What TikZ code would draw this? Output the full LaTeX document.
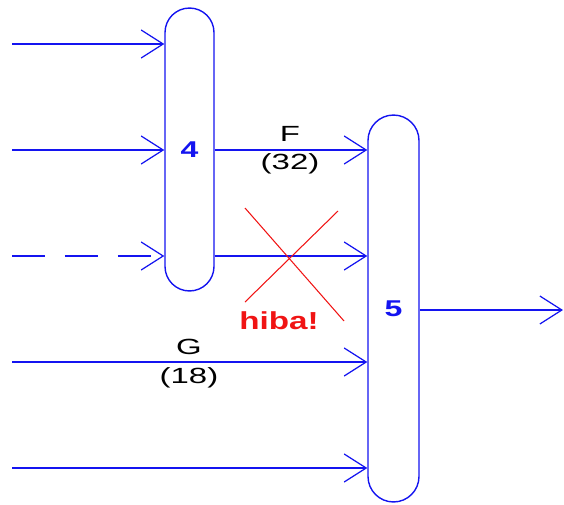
\documentclass[tikz,border=0pt]{standalone}
\usepackage{fontspec}
\setmainfont{Liberation Sans}
\newfontfamily\widefont[FakeStretch=1.5]{Liberation Sans}
\newfontfamily\unitfont[FakeStretch=1.4]{Liberation Sans}
\newfontfamily\errfont[FakeStretch=1.35]{Liberation Sans}
\usetikzlibrary{arrows.meta,positioning}
\definecolor{plBlue}{RGB}{ 20, 20,240}
\definecolor{plRed} {RGB}{240, 20, 20}
\begin{document}
\begin{tikzpicture}[
  x=0.02cm,y=-0.02cm,
  every node/.style={font=\widefont\fontsize{12.5}{14}\selectfont},
  >={Straight Barb[length=4.4mm,width=5.6mm]},
  flow/.style={->,draw=plBlue,line width=0.7pt},
  unit/.style={draw=plBlue,line width=0.8pt,inner sep=0pt,
               font=\unitfont\fontsize{13}{15}\selectfont\bfseries,text=plBlue},
  cross/.style={draw=plRed,line width=0.6pt}
]
\useasboundingbox (0,0) rectangle (564,504);
% units
\node[unit,minimum width=9.8mm,minimum height=56.6mm,rounded corners=4.9mm]
  (U4) at (189.5,149.5) {4};
\node[unit,minimum width=10.2mm,minimum height=77.4mm,rounded corners=5.1mm]
  (U5) at (393.5,308.5) {5};
% free ends
\coordinate (A1) at (12,44);
\coordinate (A2) at (12,150);
\coordinate (A3) at (12,256);
\coordinate (G)  at (12,362);
\coordinate (A5) at (12,468);
\coordinate (O)  at (563,310);
% inputs of unit 4
\draw[flow] (A1) -- (A1 -| U4.west);
\draw[flow] (A2) -- (A2 -| U4.west);
\draw[flow,dash pattern=on 6.6mm off 4mm] (A3) -- (A3 -| U4.west);
% unit 4 to unit 5
\draw[flow] (A2 -| U4.east) -- (A2 -| U5.west);
\draw[flow] (A3 -| U4.east) -- (A3 -| U5.west);
\node (lF)  at (290,134) {F};
\node (lF2) at (290,164) {(32)};
% error mark
\coordinate (X1) at (245,208);
\coordinate (X2) at (344,321);
\coordinate (X3) at (338,211);
\coordinate (X4) at (245,302);
\draw[cross] (X1) -- (X2);
\draw[cross] (X3) -- (X4);
\node[text=plRed,font=\errfont\fontsize{14}{16}\selectfont\bfseries] (err) at (279,321) {hiba!};
% other inputs of unit 5
\draw[flow] (G)  -- (G -| U5.west);
\node (lG)  at (189,347) {G};
\node (lG2) at (189,378) {(18)};
\draw[flow] (A5) -- (A5 -| U5.west);
% output
\draw[flow] (O -| U5.east) -- (O);
\end{tikzpicture}
\end{document}
